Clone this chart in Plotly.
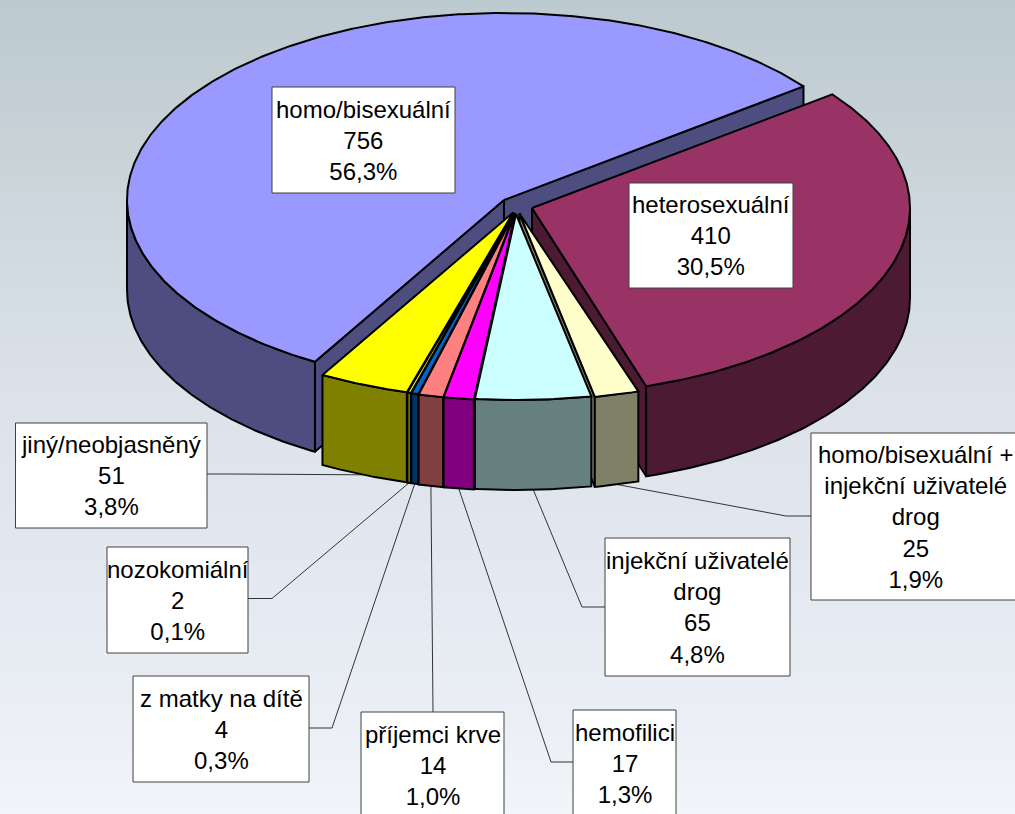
import math
import plotly.graph_objects as go

# ---- data (counter-clockwise from the homo/bisexuální start edge) ----
categories = ["homo/bisexuální", "jiný/neobjasněný", "nozokomiální", "z matky na dítě",
              "příjemci krve", "hemofilici", "injekční uživatelé<br>drog",
              "homo/bisexuální +<br>injekční uživatelé<br>drog", "heterosexuální"]
values = [756, 51, 2, 4, 14, 17, 65, 25, 410]
percents = ["56,3%", "3,8%", "0,1%", "0,3%", "1,0%", "1,3%", "4,8%", "1,9%", "30,5%"]

# ---- style ----
top_colors = ["#9999FF", "#FFFF00", "#FFFF00", "#0066CC", "#FF8080", "#FF00FF", "#CCFFFF", "#FFFFCC", "#993366"]
wall_colors = ["#4D4D80", "#808000", "#808000", "#003366", "#804040", "#800080", "#668080", "#808066", "#4D1A33"]
centres = [(504, 200), (513.2, 212.5), (513.8, 212.8), (514.2, 213), (514.6, 213.5), (515, 213.5), (516, 214), (519.5, 213.5), (532, 208)]
radii = [(377, 187), (385, 187), (385, 187), (385, 187), (385, 187), (385, 187), (385, 186), (385, 187), (378, 187)]
angle_shift = [0, 0.4, 0.4, 0.4, 0.4, 0.4, 0.4, 0.4, 0]
DEPTH = 90
START = 37.4
paint_order = [0, 8, 1, 7, 2, 3, 4, 5, 6]
boxes = [(272, 87, 455, 193), (15.5, 423, 207, 528), (107, 547, 248, 653), (133, 676, 309, 782),
         (361, 712, 504, 818), (573, 710, 676, 816), (605, 538, 790, 676), (811, 433, 1022, 600), (629, 183, 793, 288)]
elbows = [None, (230, 474), (272, 598.5), (332, 728), None, (551, 762), (582, 607), (786, 516), None]
leader_from = [None, (207, 474), (248, 598.5), (309, 728), (433, 712), (573, 762), (605, 607), (811, 516), None]
BLACK = "#000000"
bg_stops = [(0, "#BCC9CE"), (150, "#C8D3D8"), (300, "#D4DDE3"), (420, "#DEE3EB"), (600, "#E5E9F1"), (720, "#EBEFF5"), (814, "#F2F5F9")]

total = sum(values)
angles = [START]
for v in values:
    angles.append(angles[-1] + v / total * 360)


def pt(i, a, drop=0):
    cx, cy = centres[i]
    rx, ry = radii[i]
    r = math.radians(a)
    return cx + rx * math.cos(r), cy - ry * math.sin(r) + drop


def arc(i, a0, a1, drop=0):
    n = max(2, int(abs(a1 - a0) * 2))
    return [pt(i, a0 + (a1 - a0) * k / n, drop) for k in range(n + 1)]


fig = go.Figure()

# background gradient
Y = [s[0] for s in bg_stops]
fig.add_trace(go.Heatmap(x=[0, 1015], y=Y, z=[[y, y] for y in Y], zsmooth="best", showscale=False,
                         colorscale=[[y / 814, c] for y, c in bg_stops], zmin=0, zmax=814, hoverinfo="skip"))


def poly(points, color, width=2):
    fig.add_trace(go.Scatter(x=[p[0] for p in points] + [points[0][0]], y=[p[1] for p in points] + [points[0][1]],
                             mode="lines", fill="toself", fillcolor=color, line=dict(color=BLACK, width=width),
                             hoverinfo="skip", showlegend=False))


# leader lines run from the label box to the foot of the slice wall
for i in range(len(values)):
    if leader_from[i] is None:
        continue
    mid = (angles[i] + angles[i + 1]) / 2 + angle_shift[i]
    foot = pt(i, mid, DEPTH)
    pts = [leader_from[i]] + ([elbows[i]] if elbows[i] else []) + [foot]
    fig.add_trace(go.Scatter(x=[p[0] for p in pts], y=[p[1] for p in pts], mode="lines",
                             line=dict(color="#333333", width=1), hoverinfo="skip", showlegend=False))

# slices, far to near
for i in paint_order:
    a0, a1 = angles[i] + angle_shift[i], angles[i + 1] + angle_shift[i]
    c = centres[i]
    # a radial wall only faces the viewer when the slice lies above that edge on screen
    edges = []
    if math.cos(math.radians(a0)) > 0:
        edges.append(a0)
    if math.cos(math.radians(a1)) < 0:
        edges.append(a1)
    for a in edges:
        p = pt(i, a)
        poly([c, p, (p[0], p[1] + DEPTH), (c[0], c[1] + DEPTH)], wall_colors[i])
    # outer wall: only the part of the rim facing the viewer
    for lo, hi in ((180, 360), (540, 720)):
        s, e = max(a0, lo), min(a1, hi)
        if e > s:
            poly(arc(i, s, e) + arc(i, e, s, DEPTH), wall_colors[i])
    poly([c] + arc(i, a0, a1), top_colors[i], 2)

# label boxes and texts
shapes = []
annotations = []
for i, (x0, y0, x1, y1) in enumerate(boxes):
    shapes.append(dict(type="rect", x0=x0, y0=y0, x1=x1, y1=y1, xref="x", yref="y", layer="above",
                       fillcolor="#FFFFFF", line=dict(color="#404040", width=1)))
    annotations.append(dict(x=(x0 + min(x1, 1019)) / 2, y=(y0 + y1) / 2, xref="x", yref="y",
                            text=f"{categories[i]}<br>{values[i]}<br>{percents[i]}",
                            showarrow=False, align="center", xanchor="center", yanchor="middle",
                            font=dict(family="Liberation Sans", size=24, color="#000000")))

fig.update_layout(width=1015, height=814, margin=dict(l=0, r=0, t=0, b=0), showlegend=False,
                  paper_bgcolor="#E5E9F1", plot_bgcolor="#E5E9F1", shapes=shapes, annotations=annotations,
                  xaxis=dict(range=[0, 1015], visible=False, fixedrange=True),
                  yaxis=dict(range=[814, 0], visible=False, fixedrange=True))

fig.write_html("out.html", config={"displayModeBar": False},
               post_script="document.body.style.margin='0';document.body.style.overflow='hidden';")
